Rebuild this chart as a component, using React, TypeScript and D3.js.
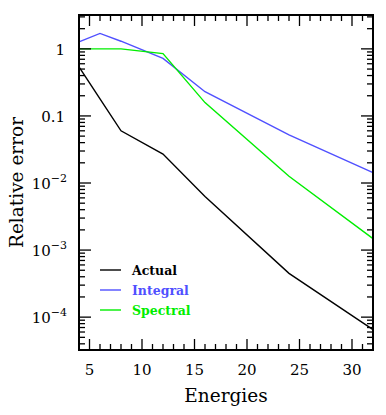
import React from "react";
import * as d3 from "d3";

// energies used for each run
const energies = [4, 6, 8, 12, 16, 24, 32];
// relative errors
const actualErr = [0.54, 0.18, 0.06, 0.027, 0.0063, 0.00045, 0.000065];
const integralErr = [1.27, 1.7, 1.3, 0.72, 0.23, 0.052, 0.0143];
const spectralErr = [1.0, 1.0, 1.0, 0.85, 0.158, 0.0126, 0.00148];

const seriesNames = ["Actual", "Integral", "Spectral"];
const seriesColors = ["#000000", "#5050ff", "#00ee00"];

const xTickValues = [5, 10, 15, 20, 25, 30];
const yTickValues = [1, 0.1, 0.01, 0.001, 0.0001];
const yTickText = ["1", "0.1", "10", "10", "10"];
const yTickExp = ["", "", "\u22122", "\u22123", "\u22124"];

const W = 386,
  H = 415;
const margin = { left: 79, right: 13, top: 15, bottom: 65 };

export default function App() {
  const x = d3
    .scaleLinear()
    .domain([4, 32])
    .range([margin.left, W - margin.right]);
  const y = d3
    .scaleLog()
    .domain([Math.pow(10, -4.49), Math.pow(10, 0.505)])
    .range([H - margin.bottom, margin.top]);

  const top = margin.top,
    bottom = H - margin.bottom,
    left = margin.left,
    right = W - margin.right;

  const line = d3
    .line<[number, number]>()
    .x((d) => x(d[0]))
    .y((d) => y(d[1]));

  const series = [actualErr, integralErr, spectralErr];

  // minor ticks for the x axis, every unit
  const xMinor = d3.range(5, 33, 1).filter((v) => v % 5 !== 0);
  // minor ticks for the log axis, 2..9 in every decade
  const yMinor: number[] = [];
  for (let e = -5; e <= 0; e++) {
    for (let k = 2; k <= 9; k++) {
      const v = k * Math.pow(10, e);
      const [lo, hi] = y.domain();
      if (v > lo && v < hi) yMinor.push(v);
    }
  }

  const serif = "'DejaVu Serif', serif";

  return (
    <svg
      width={W}
      height={H}
      style={{ position: "absolute", left: 0, top: 0, background: "#fff" }}
    >
      {/* data */}
      <g fill="none" strokeWidth={1.4}>
        {series.map((s, i) => (
          <path
            key={i}
            d={line(energies.map((e, j) => [e, s[j]] as [number, number])) || ""}
            stroke={seriesColors[i]}
          />
        ))}
      </g>

      {/* ticks */}
      <g stroke="#000" strokeWidth={1.3}>
        {xTickValues.map((v) => (
          <g key={"xm" + v}>
            <line x1={x(v)} x2={x(v)} y1={bottom} y2={bottom - 11} />
            <line x1={x(v)} x2={x(v)} y1={top} y2={top + 11} />
          </g>
        ))}
        {xMinor.map((v) => (
          <g key={"xn" + v}>
            <line x1={x(v)} x2={x(v)} y1={bottom} y2={bottom - 6} />
            <line x1={x(v)} x2={x(v)} y1={top} y2={top + 6} />
          </g>
        ))}
        {yTickValues.map((v) => (
          <g key={"ym" + v}>
            <line x1={left} x2={left + 12} y1={y(v)} y2={y(v)} />
            <line x1={right} x2={right - 12} y1={y(v)} y2={y(v)} />
          </g>
        ))}
        {yMinor.map((v) => (
          <g key={"yn" + v}>
            <line x1={left} x2={left + 6} y1={y(v)} y2={y(v)} />
            <line x1={right} x2={right - 6} y1={y(v)} y2={y(v)} />
          </g>
        ))}
      </g>

      {/* frame */}
      <rect
        x={left}
        y={top}
        width={right - left}
        height={bottom - top}
        fill="none"
        stroke="#000"
        strokeWidth={2}
      />

      {/* tick labels */}
      <g fontFamily={serif} fontSize={15} fill="#000">
        {xTickValues.map((v) => (
          <text key={"xl" + v} x={x(v)} y={bottom + 25} textAnchor="middle">
            {v}
          </text>
        ))}
        {yTickValues.map((v, i) => (
          <text
            key={"yl" + v}
            x={yTickExp[i] ? 67 : 65}
            y={y(v) + 6}
            textAnchor="end"
          >
            {yTickText[i]}
            {yTickExp[i] && (
              <tspan fontSize={11} dy={-7}>
                {yTickExp[i]}
              </tspan>
            )}
          </text>
        ))}
      </g>

      {/* axis titles */}
      <text
        x={(left + right) / 2}
        y={402}
        textAnchor="middle"
        fontFamily={serif}
        fontSize={18.5}
      >
        Energies
      </text>
      <text
        transform={`translate(23,${(top + bottom) / 2}) rotate(-90)`}
        textAnchor="middle"
        fontFamily={serif}
        fontSize={18.5}
      >
        Relative error
      </text>

      {/* legend */}
      <g fontFamily={serif} fontSize={12.5} fontWeight="bold">
        {seriesNames.map((n, i) => (
          <g key={n} transform={`translate(100,${270 + i * 20})`}>
            <line x1={0} x2={21} y1={0} y2={0} stroke={seriesColors[i]} strokeWidth={1.4} />
            <text x={32} y={4.5} fill={seriesColors[i]}>
              {n}
            </text>
          </g>
        ))}
      </g>
    </svg>
  );
}
